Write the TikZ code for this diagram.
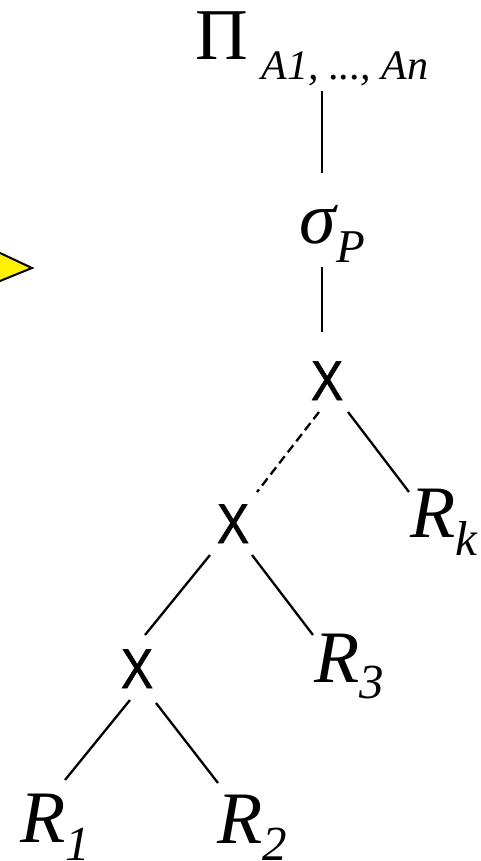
\documentclass[tikz,border=0pt]{standalone}
\usepackage{fontspec}
\setmainfont{Liberation Serif}
\newfontfamily\sansX[FakeBold=1.2]{Liberation Sans}
\usetikzlibrary{calc}
\tikzset{
  lbl/.style={anchor=base west, inner sep=0pt, outer sep=0pt},
  edgeline/.style={line width=2.3pt, line cap=butt},
  dashedge/.style={edgeline, dash pattern=on 9pt off 5pt},
}
\newcommand{\Rlab}[2]{{\fontsize{74}{74}\selectfont\itshape R}\raisebox{-#2pt}{\fontsize{49}{49}\selectfont\itshape #1}}
\newcommand{\Xlab}{\scalebox{0.86}[1]{\sansX\fontsize{56}{56}\selectfont X}}
\begin{document}
\begin{tikzpicture}[x=1pt,y=-1pt]
\useasboundingbox (0,0) rectangle (480,861);
\fill[white] (0,0) rectangle (480,861);
% yellow arrow head, cut by the left edge
\begin{scope}
\clip (0,0) rectangle (480,861);
\draw[fill=yellow, line width=2pt, line join=miter] (-20,243.6) -- (32,268) -- (-20,289.1) -- cycle;
\end{scope}
% labels
\node[lbl] (pi) at (195,60) {{\fontsize{73}{73}\selectfont Π}\hspace{14pt}\raisebox{-20pt}{\fontsize{42}{42}\selectfont\itshape A1, ..., An}};
\node[lbl] (sigma) at (299,243) {{\fontsize{74}{74}\selectfont\itshape σ}\hspace{1pt}\raisebox{-19pt}{\fontsize{47}{47}\selectfont\itshape P}};
\node[lbl] (topX) at (311,400) {\Xlab};
\node[lbl] (Rk) at (410,537) {\Rlab{k}{18}};
\node[lbl] (midX) at (217,543) {\Xlab};
\node[lbl] (R3) at (314,682) {\Rlab{3}{16}};
\node[lbl] (botX) at (121,688) {\Xlab};
\node[lbl] (R1) at (20,842) {\Rlab{1}{18}};
\node[lbl] (R2) at (217,843) {\Rlab{2}{17}};
% connectors
\draw[edgeline] ($(pi.base west)+(127,31)$) -- ($(sigma.base west)+(23,-70)$);
\draw[edgeline] ($(sigma.base west)+(23,24)$) -- ($(topX.base west)+(11,-68)$);
\draw[edgeline] ($(topX.base west)+(37,12)$) -- ($(Rk.base west)+(-1,-45)$);
\draw[dashedge] ($(topX.base west)+(8,12)$) -- ($(midX.base west)+(40,-51)$);
\draw[edgeline] ($(midX.base west)+(-7,12)$) -- ($(botX.base west)+(24,-53)$);
\draw[edgeline] ($(midX.base west)+(35,12)$) -- ($(R3.base west)+(-1,-47)$);
\draw[edgeline] ($(botX.base west)+(9,12)$) -- ($(R1.base west)+(45,-62)$);
\draw[edgeline] ($(botX.base west)+(35,15)$) -- ($(R2.base west)+(1,-60)$);
\end{tikzpicture}
\end{document}
